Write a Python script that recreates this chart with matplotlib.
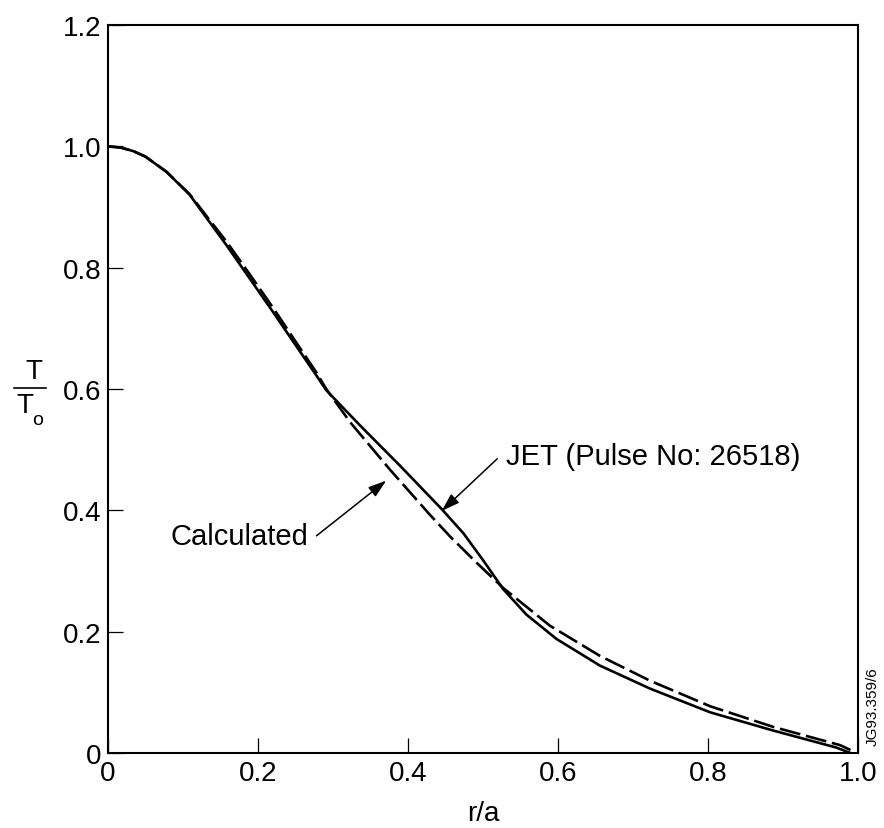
import matplotlib
matplotlib.use("Agg")
import matplotlib.pyplot as plt
from matplotlib.lines import Line2D

plt.rcParams['font.family'] = ['Liberation Sans', 'DejaVu Sans']

# JET measured profile (Pulse No: 26518)
jet_r = [0.0, 0.017, 0.034, 0.05, 0.078, 0.109, 0.132, 0.158, 0.189, 0.220,
         0.247, 0.278, 0.291, 0.336, 0.389, 0.445, 0.474, 0.50, 0.527, 0.558,
         0.598, 0.656, 0.723, 0.803, 0.887, 0.971, 0.99]
jet_t = [1.0, 0.998, 0.992, 0.983, 0.958, 0.920, 0.881, 0.837, 0.782, 0.727,
         0.678, 0.622, 0.598, 0.540, 0.474, 0.402, 0.362, 0.318, 0.270, 0.228,
         0.188, 0.144, 0.106, 0.067, 0.037, 0.009, 0.0]

# calculated profile
calc_r = [0.0, 0.017, 0.034, 0.05, 0.078, 0.109, 0.132, 0.158, 0.189, 0.220,
          0.247, 0.278, 0.291, 0.323, 0.376, 0.429, 0.456, 0.492, 0.527, 0.589,
          0.656, 0.723, 0.803, 0.887, 0.976, 0.99]
calc_t = [1.0, 0.998, 0.992, 0.983, 0.958, 0.921, 0.884, 0.843, 0.789, 0.734,
          0.684, 0.627, 0.600, 0.545, 0.467, 0.393, 0.357, 0.313, 0.272, 0.210,
          0.160, 0.119, 0.077, 0.043, 0.013, 0.005]

x_ticks = [0, 0.2, 0.4, 0.6, 0.8, 1.0]
x_labels = ['0', '0.2', '0.4', '0.6', '0.8', '1.0']
y_ticks = [0, 0.2, 0.4, 0.6, 0.8, 1.0, 1.2]
y_labels = ['0', '0.2', '0.4', '0.6', '0.8', '1.0', '1.2']

fig = plt.figure(figsize=(8.84, 8.29), dpi=100)
W, H = 884, 829
ax = fig.add_axes([108 / W, 1 - 754 / H, 750 / W, 728 / H])

ax.plot(jet_r, jet_t, color='black', lw=1.9, solid_capstyle='butt')
ax.plot(calc_r, calc_t, color='black', lw=1.9, dashes=(8, 2.2))

ax.set_xlim(0, 1.0)
ax.set_ylim(0, 1.2)
ax.set_xticks(x_ticks)
ax.set_xticklabels(x_labels)
ax.set_yticks(y_ticks)
ax.set_yticklabels(y_labels)
ax.tick_params(direction='in', length=11, width=0.9, labelsize=20, pad=5)
for s in ax.spines.values():
    s.set_linewidth(1.5)

ax.set_xlabel('r/a', fontsize=20, labelpad=10)

# T / T_o label
fig.text(34 / W, 1 - 372 / H, 'T', fontsize=20, ha='center', va='center')
fig.add_artist(Line2D([14 / W, 46 / W], [1 - 389 / H, 1 - 389 / H],
                      color='black', lw=1.2))
fig.text(25 / W, 1 - 406 / H, 'T', fontsize=20, ha='center', va='center')
fig.text(38 / W, 1 - 421 / H, 'o', fontsize=14, ha='center', va='center')

arrow = dict(arrowstyle='-|>,head_length=0.55,head_width=0.18',
             color='black', lw=1.1, mutation_scale=20, shrinkA=0, shrinkB=0)
ax.annotate('', xy=(0.445, 0.399), xytext=(0.519, 0.485), arrowprops=arrow)
ax.text(0.531, 0.489, 'JET (Pulse No: 26518)', fontsize=21, ha='left', va='center')
ax.annotate('', xy=(0.371, 0.449), xytext=(0.278, 0.358), arrowprops=arrow)
ax.text(0.267, 0.358, 'Calculated', fontsize=21, ha='right', va='center')

fig.text(873 / W, 1 - 707 / H, 'JG93.359/6', fontsize=11, rotation=90,
         ha='center', va='center')

fig.savefig('out.png', dpi=100)
